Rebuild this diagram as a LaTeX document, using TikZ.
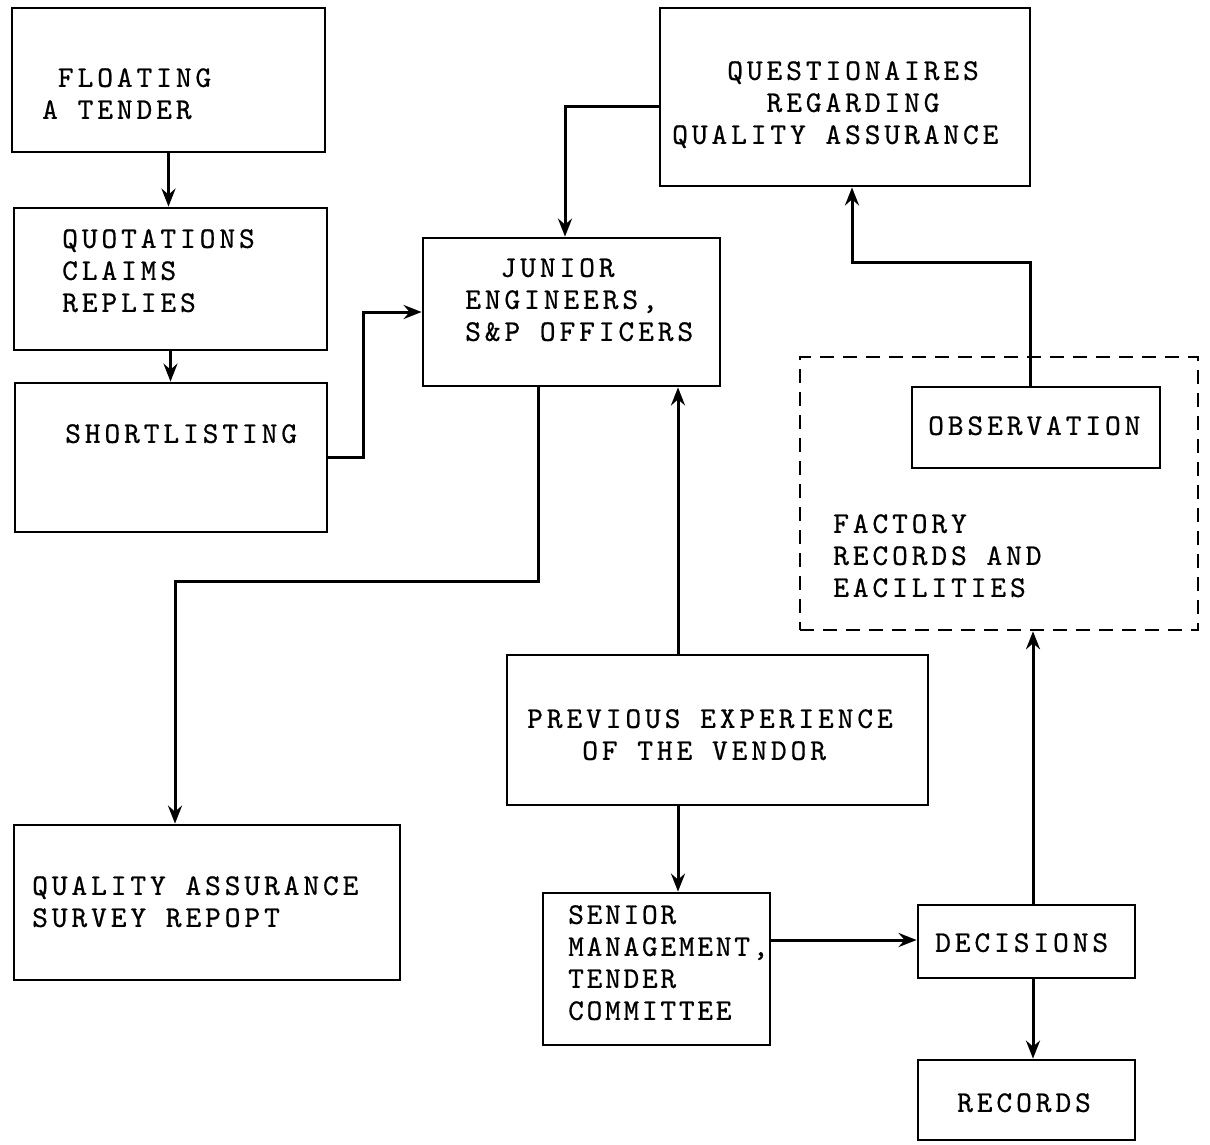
\documentclass[tikz,border=0pt]{standalone}
\usepackage{fontspec}
\newfontfamily\tw{lmmono10-regular.otf}[LetterSpace=13, FakeBold=0.6]
\usetikzlibrary{arrows.meta,calc}
\begin{document}
\begin{tikzpicture}[x=1pt,y=-1pt,
  box/.style={draw, line width=2.8pt, inner sep=0pt},
  dbox/.style={draw, line width=2.6pt, dash pattern=on 14pt off 9pt, inner sep=0pt},
  lbl/.style={inner sep=0pt, anchor=north west, align=left,
              font=\tw\fontsize{30}{32}\selectfont},
  wire/.style={line width=3pt},
  conn/.style={wire, -{Stealth[length=18pt,width=14pt,inset=6pt]}}
]
\fill[white] (0,0) rectangle (1210,1144);
\useasboundingbox (0,0) rectangle (1210,1144);

% boxes
\node[box, minimum width=313pt, minimum height=144pt] (float)  at (168.5,80)   {};
\node[box, minimum width=313pt, minimum height=142pt] (quot)   at (170.5,279)  {};
\node[box, minimum width=312pt, minimum height=149pt] (short)  at (171,457.5)  {};
\node[box, minimum width=297pt, minimum height=148pt] (junior) at (571.5,312)  {};
\node[box, minimum width=370pt, minimum height=178pt] (quest)  at (845,97)     {};
\node[dbox, minimum width=398pt, minimum height=273pt] (fact)  at (999,493.5)  {};
\node[box, minimum width=248pt, minimum height=81pt]  (obs)    at (1036,427.5) {};
\node[box, minimum width=386pt, minimum height=155pt] (qas)    at (207,902.5)  {};
\node[box, minimum width=421pt, minimum height=150pt] (prev)   at (717.5,730)  {};
\node[box, minimum width=227pt, minimum height=152pt] (senior) at (656.5,969)  {};
\node[box, minimum width=217pt, minimum height=73pt]  (dec)    at (1026.5,941.5) {};
\node[box, minimum width=217pt, minimum height=80pt]  (rec)    at (1026.5,1100) {};

% labels
\node[lbl] (float-t)  at (42,68)   {\hphantom{X}FLOATING\\A TENDER};
\node[lbl] (quot-t)   at (62,229)  {QUOTATIONS\\CLAIMS\\REPLIES};
\node[lbl] (short-t)  at (65,424)  {SHORTLISTING};
\node[lbl] (junior-t) at (465,258) {\hphantom{XX}JUNIOR\\ENGINEERS,\\S\&P OFFICERS};
\node[lbl] (quest-t)  at (672,61)  {\hphantom{XXX}QUESTIONAIRES\\\hphantom{XXXXX}REGARDING\\QUALITY ASSURANCE};
\node[lbl] (obs-t)    at (928,416) {OBSERVATION};
\node[lbl] (fact-t)   at (833,514) {FACTORY\\RECORDS AND\\EACILITIES};
\node[lbl] (qas-t)    at (32,876)  {QUALITY ASSURANCE\\SURVEY REPOPT};
\node[lbl] (prev-t)   at (527,709) {PREVIOUS EXPERIENCE\\\hphantom{XXX}OF THE VENDOR};
\node[lbl, font=\tw\fontsize{30}{32}\selectfont\addfontfeature{LetterSpace=9}] (senior-t) at (568,905) {SENIOR\\MANAGEMENT,\\TENDER\\COMMITTEE};
\node[lbl] (dec-t)    at (935,933) {DECISIONS};
\node[lbl] (rec-t)    at (957,1093) {RECORDS};

% connectors
\draw[conn] (float.south) -- (float.south |- quot.north);
\draw[conn] (quot.south) -- (quot.south |- short.north);
\draw[conn] (short.east) -- ++(35,0) |- (junior.west);
\draw[conn] ([yshift=-9pt]quest.west) -| ([xshift=-6.5pt]junior.north);
\draw[conn] ([xshift=-33.5pt]junior.south) -- ++(0,194) -| ([xshift=-32pt]qas.north);
\draw[conn] ([xshift=-39.5pt]prev.north) -- ([xshift=-39.5pt]prev.north |- junior.south);
\draw[conn] ([xshift=-39.5pt]prev.south) -- ([xshift=-39.5pt]prev.south |- senior.north);
\draw[conn] ([yshift=29pt]senior.east) -- ([yshift=29pt]senior.east -| dec.west);
\draw[conn] ([xshift=6.5pt]dec.north) -- ([xshift=6.5pt]dec.north |- fact.south);
\draw[conn] ([xshift=6.5pt]dec.south) -- ([xshift=6.5pt]dec.south |- rec.north);
\draw[conn] ([xshift=-6pt]obs.north) -- ++(0,-123) -| ([xshift=7pt]quest.south);
\end{tikzpicture}
\end{document}
